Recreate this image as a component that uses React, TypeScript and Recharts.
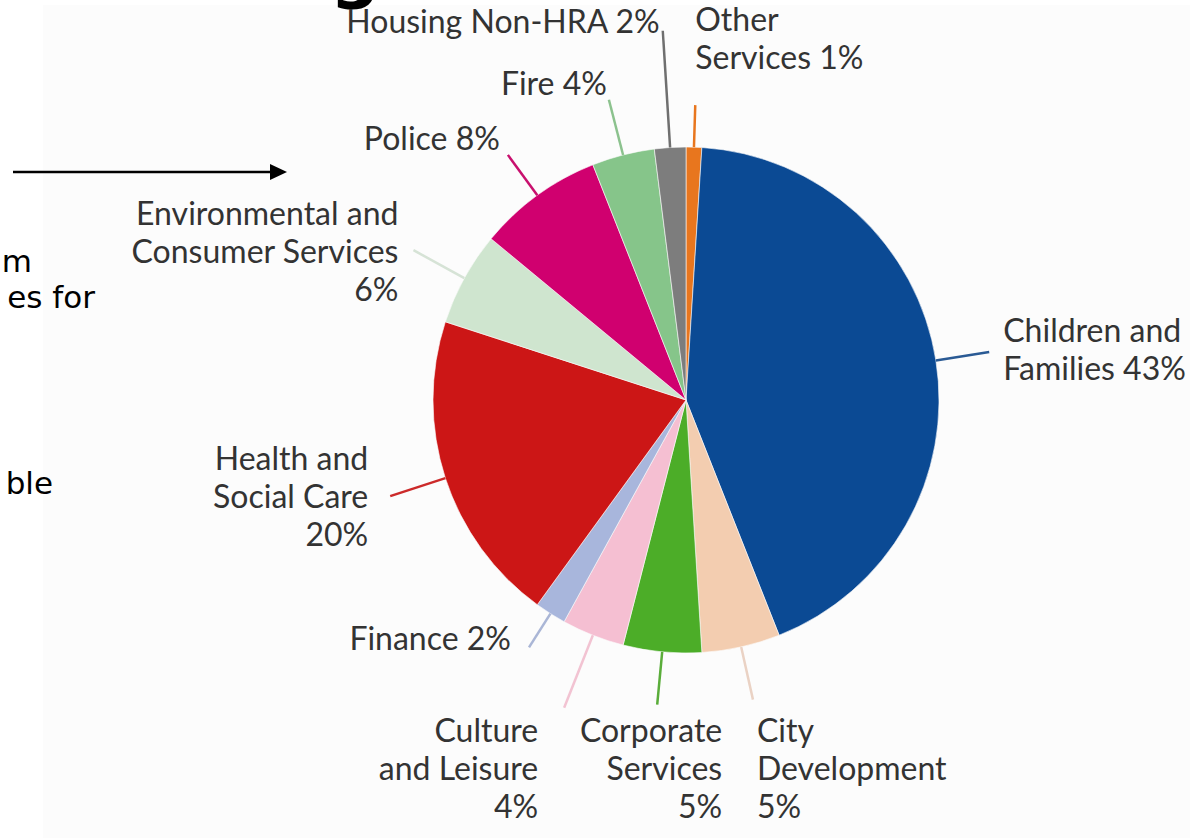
import { PieChart, Pie, Cell } from "recharts";

const categories = [
  "Other Services",
  "Children and Families",
  "City Development",
  "Corporate Services",
  "Culture and Leisure",
  "Finance",
  "Health and Social Care",
  "Environmental and Consumer Services",
  "Police",
  "Fire",
  "Housing Non-HRA",
];

const shares = [1, 43, 5, 5, 4, 2, 20, 6, 8, 4, 2];

const labelLines = [
  ["Other", "Services"],
  ["Children and", "Families"],
  ["City", "Development"],
  ["Corporate", "Services"],
  ["Culture", "and Leisure"],
  ["Finance"],
  ["Health and", "Social Care"],
  ["Environmental and", "Consumer Services"],
  ["Police"],
  ["Fire"],
  ["Housing Non-HRA"],
];

const COLORS = [
  "#e8761e",
  "#0b4a94",
  "#f3cdb0",
  "#4cad28",
  "#f5bfd2",
  "#a8b6dc",
  "#cc1616",
  "#cfe5cf",
  "#d0006f",
  "#86c58a",
  "#7d7d7d",
];

const LINE_COLORS = [
  "#e8761e",
  "#2a5a94",
  "#ead2c4",
  "#5aad3a",
  "#f2c3d2",
  "#aab6d6",
  "#cc2a2a",
  "#d6e3d6",
  "#c8106e",
  "#8cc28e",
  "#6f6f6f",
];

// leader line length and text offset from the line end
const LAYOUT = [
  { len: 42, dx: 0, dy: -87, anchor: "start", pctLine: false },
  { len: 54, dx: 14, dy: -22, anchor: "start", pctLine: false },
  { len: 54, dx: 4, dy: 30, anchor: "start", pctLine: true },
  { len: 53, dx: 65, dy: 25, anchor: "end", pctLine: true },
  { len: 78, dx: -26, dy: 22, anchor: "end", pctLine: true },
  { len: 40, dx: -18, dy: -10, anchor: "end", pctLine: false },
  { len: 58, dx: -22, dy: -39, anchor: "end", pctLine: true },
  { len: 58, dx: -15, dy: -38, anchor: "end", pctLine: true },
  { len: 50, dx: -8, dy: -17, anchor: "end", pctLine: false },
  { len: 57, dx: -2, dy: -17, anchor: "end", pctLine: false },
  { len: 117, dx: -3, dy: -10, anchor: "end", pctLine: false },
];

const data = categories.map((name, i) => ({ name, value: shares[i] }));

const RAD = Math.PI / 180;
const LINE_H = 38;

function renderLabel(props: any) {
  const { cx, cy, midAngle, outerRadius, index, value } = props;
  const lay = LAYOUT[index];
  const cos = Math.cos(-midAngle * RAD);
  const sin = Math.sin(-midAngle * RAD);
  const x1 = cx + outerRadius * cos;
  const y1 = cy + outerRadius * sin;
  const x2 = cx + (outerRadius + lay.len) * cos;
  const y2 = cy + (outerRadius + lay.len) * sin;
  const lines = [...labelLines[index]];
  if (lay.pctLine) lines.push(`${value}%`);
  else lines[lines.length - 1] = `${lines[lines.length - 1]} ${value}%`;
  return (
    <g key={index}>
      <line x1={x1} y1={y1} x2={x2} y2={y2} stroke={LINE_COLORS[index]} strokeWidth={2.5} />
      <text
        x={x2 + lay.dx}
        y={y2 + lay.dy}
        textAnchor={lay.anchor}
        fill="#333"
        fontFamily="Lato, sans-serif"
        fontSize={32}
      >
        {lines.map((t, j) => (
          <tspan key={j} x={x2 + lay.dx} dy={j === 0 ? 0 : LINE_H} dominantBaseline="central">
            {t}
          </tspan>
        ))}
      </text>
    </g>
  );
}

export default function App() {
  return (
    <div style={{ position: "absolute", left: 0, top: 0, width: 1190, height: 838, background: "#fff", overflow: "hidden" }}>
      <svg width={1190} height={838} style={{ position: "absolute", left: 0, top: 0 }}>
        <rect x={43} y={5} width={1147} height={833} fill="#fcfcfc" />
        <text x={330} y={-5} fontFamily="DejaVu Sans, sans-serif" fontWeight="bold" fontSize={70} fill="#000">
          g
        </text>
        <line x1={13} y1={172} x2={272} y2={172} stroke="#000" strokeWidth={2.5} />
        <polygon points="287,172 270,164 270,180" fill="#000" />
        <g fontFamily="DejaVu Sans, sans-serif" fontSize={31} fill="#000" textAnchor="end">
          <text x={32} y={272}>m</text>
          <text x={95} y={308}>es for</text>
          <text x={53} y={494}>ble</text>
        </g>
      </svg>
      <div style={{ position: "absolute", left: 0, top: 0 }}>
        <PieChart width={1190} height={838} margin={{ top: 0, right: 0, bottom: 0, left: 0 }}>
          <Pie
            data={data}
            dataKey="value"
            nameKey="name"
            cx={686}
            cy={400}
            outerRadius={253}
            startAngle={90}
            endAngle={-270}
            stroke="#fcfcfc"
            strokeWidth={0.6}
            label={renderLabel}
            labelLine={false}
            isAnimationActive={false}
          >
            {data.map((_, i) => (
              <Cell key={i} fill={COLORS[i]} />
            ))}
          </Pie>
        </PieChart>
      </div>
    </div>
  );
}
